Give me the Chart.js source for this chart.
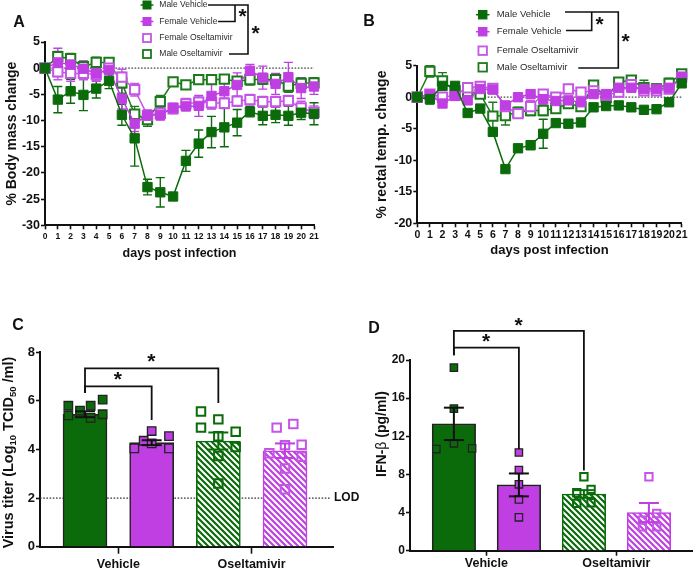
<!DOCTYPE html>
<html>
<head>
<meta charset="utf-8">
<script src="https://cdn.jsdelivr.net/npm/chart.js@4.4.1/dist/chart.umd.min.js"></script>
<style>
html, body { margin: 0; padding: 0; background: #fff; }
#wrap { position: relative; width: 700px; height: 572px; overflow: hidden; }
canvas { position: absolute; }
</style>
</head>
<body>
<div id="wrap">
  <canvas id="cA" width="350" height="290" style="left:0;top:0"></canvas>
  <canvas id="cB" width="350" height="290" style="left:350px;top:0"></canvas>
  <canvas id="cC" width="370" height="282" style="left:0;top:290px"></canvas>
  <canvas id="cD" width="350" height="282" style="left:350px;top:290px"></canvas>
</div>
<script>
// ---- data: panels A and B (days post infection)
const days = [0, 1, 2, 3, 4, 5, 6, 7, 8, 9, 10, 11, 12, 13, 14, 15, 16, 17, 18, 19, 20, 21];
const seriesNames = ['Male Vehicle', 'Female Vehicle', 'Female Oseltamivir', 'Male Oseltamivir'];

const massMaleVeh = [0, -6.0, -4.4, -5.1, -3.9, -2.4, -8.9, -13.4, -22.7, -23.7, -24.5, -17.7, -14.4, -12.2, -11.3, -10.4, -8.3, -9.1, -8.9, -9.1, -8.5, -8.7];
const massFemVeh = [0, 1.1, 0.7, -0.1, -1.0, -0.4, -5.8, -10.6, -9.0, -8.9, -7.6, -7.3, -7.2, -5.3, -4.4, -3.2, -0.5, -1.8, -3.0, -1.7, -3.8, -3.5];
const massFemOsel = [0, -0.7, -1.0, -1.0, -1.2, 0.0, -1.7, -4.1, -9.0, -8.6, -7.7, -6.8, -6.5, -6.6, -6.7, -6.3, -6.0, -6.4, -6.4, -6.2, -7.6, -8.4];
const massMaleOsel = [0, 2.2, 1.8, 0.3, 1.1, 1.1, -2.8, -8.8, -9.8, -6.4, -2.6, -3.2, -2.2, -2.2, -2.1, -2.5, -2.2, -2.1, -2.2, -3.4, -2.9, -2.8];
const massMaleVehSem = [0, 2.5, 2.3, 3.0, 1.8, 1.5, 2.0, 5.3, 1.5, 2.8, 0.5, 2.0, 2.6, 3.0, 3.7, 2.5, 1.0, 1.7, 1.5, 1.8, 1.3, 2.1];
const massFemVehSem = [0, 2.7, 1.5, 1.5, 1.5, 1.5, 2.0, 1.5, 1.0, 1.0, 0.8, 0.8, 2.0, 2.5, 2.5, 2.3, 1.2, 2.2, 2.0, 2.8, 2.0, 1.5];
const massFemOselSem = [0, 1.5, 1.5, 1.2, 1.2, 1.0, 1.5, 1.2, 1.0, 1.2, 1.0, 1.0, 1.0, 1.0, 1.0, 1.0, 1.0, 1.0, 1.0, 1.0, 1.3, 1.2];
const massMaleOselSem = [0, 1.0, 1.0, 1.0, 1.0, 0.8, 2.0, 1.5, 1.3, 1.2, 0.8, 0.8, 0.8, 0.8, 0.8, 0.8, 1.0, 1.0, 1.0, 1.2, 1.0, 1.0];

const tempMaleVeh = [0, -0.3, 1.8, 1.8, -2.5, -1.8, -5.5, -11.4, -8.1, -7.6, -5.8, -4.1, -4.2, -4.0, -1.6, -1.4, -1.3, -1.6, -2.0, -1.9, -0.8, 2.2];
const tempFemVeh = [0, 0.4, -1.0, 0.2, -0.5, 1.3, 1.2, -1.3, 0.0, 0.5, -0.3, -0.6, -0.5, -0.8, 0.5, 0.5, 1.5, 1.5, 1.3, 1.3, 1.5, 3.2];
const tempFemOsel = [0, 0.5, 0.0, 0.3, 1.5, 1.7, 1.4, -1.5, -2.6, -1.5, 0.5, 0.0, 1.3, 0.8, 1.0, 0.3, 0.8, 2.0, 1.0, 1.0, 1.3, 3.2];
const tempMaleOsel = [0, 4.1, 2.6, 1.0, 0.9, 0.5, -3.0, -2.9, -2.4, -2.1, -2.1, -1.8, -1.0, -1.5, 1.9, 0.0, 2.4, 2.7, 1.5, 1.3, 2.2, 3.7];
const tempMaleVehSem = [0.2, 0.8, 0.5, 0.5, 0.4, 0.4, 0.6, 0.5, 0.5, 0.7, 2.3, 0.5, 0.5, 0.5, 0.5, 0.5, 0.5, 0.5, 0.5, 0.5, 0.5, 0.6];
const tempFemVehSem = [0.2, 0.7, 0.6, 0.5, 0.5, 0.5, 0.5, 0.6, 0.6, 0.6, 0.8, 0.6, 0.5, 0.5, 0.5, 0.5, 0.6, 0.6, 0.6, 0.6, 0.6, 0.5];
const tempFemOselSem = [0.2, 0.5, 0.5, 0.5, 0.5, 0.5, 0.5, 0.6, 0.6, 1.0, 0.6, 0.5, 0.5, 0.5, 0.5, 0.5, 0.6, 0.6, 0.6, 0.6, 0.6, 0.5];
const tempMaleOselSem = [0.2, 0.9, 1.3, 0.6, 0.6, 0.6, 2.2, 1.5, 0.8, 0.8, 0.8, 0.6, 0.6, 0.6, 0.6, 0.6, 0.6, 0.6, 1.2, 0.8, 0.8, 0.6];

// ---- data: panels C and D (bars: Vehicle male, Vehicle female, Oseltamivir male, Oseltamivir female)
const groupLabels = ['Vehicle', 'Oseltamivir'];
const barPos = [1, 2, 3, 4];
const groupPos = [1.5, 3.5];

const titerMean = [5.45, 4.28, 4.35, 3.95];
const titerSem = [0.12, 0.1, 0.35, 0.3];
const titerVehMale = [5.8, 5.4, 5.6, 5.8, 5.3, 6.05, 5.45];
const titerVehFem = [4.05, 4.36, 4.76, 4.25, 4.55, 4.05];
const titerOselMale = [5.56, 4.9, 5.24, 4.55, 3.73, 2.6, 4.73, 4.1];
const titerOselFem = [4.9, 5.05, 4.18, 4.2, 3.85, 3.7, 3.22, 2.36];
const titerLod = 2;

const ifnMean = [13.3, 6.9, 5.95, 4.0];
const ifnSem = [1.7, 1.2, 0.4, 1.0];
const ifnVehMale = [19.2, 14.9, 11.26, 10.66, 10.73];
const ifnVehFem = [10.3, 8.46, 6.96, 5.38, 3.5];
const ifnOselMale = [7.76, 6.08, 6.43, 4.97, 5.03];
const ifnOselFem = [7.76, 3.9, 3.2, 2.5, 2.5];

// horizontal spread of the dots inside each bar (layout only)
const titerJitter = [
  [-0.25, -0.25, -0.075, 0.085, 0.085, 0.265, 0.265],
  [-0.26, -0.12, 0, 0, 0.26, 0.26],
  [-0.26, -0.26, 0, 0, 0, 0, 0.26, 0.26],
  [-0.125, 0.125, 0, 0.25, -0.235, 0.25, 0, 0]
];
const ifnJitter = [
  [0, 0, 0, -0.27, 0.28],
  [0, 0, 0, 0, 0],
  [0, -0.11, 0.11, -0.11, 0.11],
  [0, 0.12, -0.1, 0.12, -0.1]
];

const FONT = '"Liberation Sans", Arial, Helvetica, sans-serif';
const INK = '#111';
const GREEN = '#0b6b0b';
const GREEN_O = '#1c7a1c';
const PURPLE = '#bf3fe3';
const PURPLE_O = '#c456e6';

Chart.defaults.font.family = FONT;
Chart.defaults.color = INK;

const seriesFill = [GREEN, PURPLE, '#fff', '#fff'];
const seriesStroke = [GREEN, PURPLE, PURPLE_O, GREEN_O];
const seriesOpen = [false, false, true, true];

const gridOpt = { drawOnChartArea: false, drawTicks: true, tickLength: 4, tickWidth: 1.6, tickColor: INK };
const borderOpt = { display: true, color: INK, width: 2 };

// ---- small drawing helpers
function poly(ctx, pts, color, w) {
  ctx.save();
  ctx.strokeStyle = color;
  ctx.lineWidth = w;
  ctx.beginPath();
  pts.forEach((p, i) => i ? ctx.lineTo(p[0], p[1]) : ctx.moveTo(p[0], p[1]));
  ctx.stroke();
  ctx.restore();
}

function text(ctx, s, x, y, font, color, align) {
  ctx.save();
  ctx.font = font;
  ctx.fillStyle = color || INK;
  ctx.textAlign = align || 'left';
  ctx.textBaseline = 'middle';
  ctx.fillText(s, x, y);
  ctx.restore();
}

function star(ctx, cx, cy) {
  ctx.save();
  ctx.font = 'bold 21px ' + FONT;
  ctx.fillStyle = INK;
  ctx.textAlign = 'left';
  ctx.textBaseline = 'alphabetic';
  const m = ctx.measureText('*');
  ctx.fillText('*', cx - (m.actualBoundingBoxRight - m.actualBoundingBoxLeft) / 2,
    cy + (m.actualBoundingBoxAscent - m.actualBoundingBoxDescent) / 2);
  ctx.restore();
}

function mark(ctx, x, y, s, fill, stroke, open, withLine) {
  if (withLine) poly(ctx, [[x - s * 0.8, y], [x + s * 0.8, y]], stroke, 1.5);
  ctx.save();
  ctx.fillStyle = fill;
  ctx.strokeStyle = stroke;
  ctx.lineWidth = open ? 1.8 : 1;
  ctx.fillRect(x - s / 2, y - s / 2, s, s);
  ctx.strokeRect(x - s / 2, y - s / 2, s, s);
  ctx.restore();
}

function legendBlock(ctx, mx, rows, tx, size, fs) {
  seriesNames.forEach((name, i) => {
    mark(ctx, mx, rows[i], size, seriesFill[i], seriesStroke[i], seriesOpen[i], !seriesOpen[i]);
    text(ctx, name, tx, rows[i], fs + 'px ' + FONT, '#2a2a2a');
  });
}

// rotated y title made of pieces (for subscripts / symbol)
function vTitle(ctx, pieces, baseX, cy) {
  ctx.save();
  ctx.fillStyle = INK;
  ctx.textBaseline = 'alphabetic';
  let total = 0;
  pieces.forEach(p => { ctx.font = p.font; total += ctx.measureText(p.t).width; });
  ctx.translate(baseX, cy);
  ctx.rotate(-Math.PI / 2);
  let x = -total / 2;
  pieces.forEach(p => {
    ctx.font = p.font;
    ctx.fillText(p.t, x, p.dy || 0);
    x += ctx.measureText(p.t).width;
  });
  ctx.restore();
}

function zeroLine(ch) {
  const { ctx, chartArea: a } = ch;
  const yy = ch.scales.y.getPixelForValue(0);
  ctx.save();
  ctx.strokeStyle = '#444';
  ctx.lineWidth = 1.2;
  ctx.setLineDash([1.6, 1.6]);
  ctx.beginPath();
  ctx.moveTo(a.left, yy);
  ctx.lineTo(a.right, yy);
  ctx.stroke();
  ctx.restore();
}

function seriesErrors(ch, sems) {
  const ctx = ch.ctx, y = ch.scales.y;
  sems.forEach((arr, di) => {
    const meta = ch.getDatasetMeta(di);
    const vals = ch.data.datasets[di].data;
    ctx.save();
    ctx.strokeStyle = seriesStroke[di];
    ctx.lineWidth = 1.4;
    ctx.beginPath();
    meta.data.forEach((pt, j) => {
      const yt = y.getPixelForValue(vals[j].y + arr[j]);
      const yb = y.getPixelForValue(vals[j].y - arr[j]);
      ctx.moveTo(pt.x, yt); ctx.lineTo(pt.x, yb);
      ctx.moveTo(pt.x - 4.5, yt); ctx.lineTo(pt.x + 4.5, yt);
      ctx.moveTo(pt.x - 4.5, yb); ctx.lineTo(pt.x + 4.5, yb);
    });
    ctx.stroke();
    ctx.restore();
  });
}

function hatch(color) {
  const c = document.createElement('canvas');
  c.width = 6; c.height = 6;
  const g = c.getContext('2d');
  g.fillStyle = '#fff';
  g.fillRect(0, 0, 6, 6);
  g.strokeStyle = color;
  g.lineWidth = 2.2;
  g.beginPath();
  [-6, 0, 6].forEach(k => { g.moveTo(-1, k - 1); g.lineTo(7, k + 7); });
  g.stroke();
  return g.createPattern(c, 'repeat');
}

// ---- time-course charts (A, B)
function timeChart(id, series, sems, o) {
  return new Chart(document.getElementById(id), {
    type: 'line',
    data: {
      datasets: series.map((vals, i) => ({
        label: seriesNames[i],
        data: days.map((d, j) => ({ x: d, y: vals[j] })),
        borderColor: seriesStroke[i],
        backgroundColor: seriesFill[i],
        borderWidth: 1.5,
        pointStyle: 'rect',
        pointRadius: o.r,
        pointBorderWidth: seriesOpen[i] ? 2 : 1,
        pointBackgroundColor: seriesFill[i],
        pointBorderColor: seriesStroke[i],
        tension: 0,
        clip: false
      }))
    },
    options: {
      responsive: false,
      animation: false,
      events: [],
      layout: { padding: { left: 0, top: o.top, right: o.right, bottom: 0 } },
      plugins: { legend: { display: false }, tooltip: { enabled: false } },
      scales: {
        x: {
          type: 'linear', min: 0, max: 21,
          afterBuildTicks: s => { s.ticks = days.map(v => ({ value: v })); },
          afterFit: s => { s.height = o.xh; },
          ticks: { autoSkip: false, maxRotation: 0, minRotation: 0, padding: o.xpad, color: INK, font: { size: o.xfs, weight: 'bold' } },
          grid: gridOpt, border: borderOpt,
          title: { display: true, text: 'days post infection', color: INK, font: { size: o.xtfs, weight: 'bold' }, padding: { top: 0, bottom: o.xtpad } }
        },
        y: {
          min: o.ymin, max: o.ymax,
          afterFit: s => { s.width = o.yw; },
          ticks: { stepSize: 5, padding: 1, color: INK, font: { size: 12.5, weight: 'bold' } },
          grid: gridOpt, border: borderOpt,
          title: { display: true, text: o.ytitle, color: INK, font: { size: 14, weight: 'bold' }, padding: { top: o.ytpad, bottom: 0 } }
        }
      }
    },
    plugins: [{
      id: 'deco' + id,
      beforeDatasetsDraw(ch) { zeroLine(ch); seriesErrors(ch, sems); },
      afterDraw(ch) { o.deco(ch.ctx); }
    }]
  });
}

timeChart('cA', [massMaleVeh, massFemVeh, massFemOsel, massMaleOsel],
  [massMaleVehSem, massFemVehSem, massFemOselSem, massMaleOselSem], {
    r: 6.6, top: 42, right: 36, xh: 64.7, yw: 45, xpad: 2, xfs: 8.5, xtfs: 12.5, xtpad: 28.5,
    ymin: -30, ymax: 5, ytitle: '% Body mass change', ytpad: 4,
    deco(ctx) {
      text(ctx, 'A', 19, 23, 'bold 16px ' + FONT, INK, 'center');
      legendBlock(ctx, 147, [5, 21.5, 38, 54], 159.3, 8, 8.5);
      poly(ctx, [[208, 5], [248, 5], [248, 54], [229, 54]], INK, 1.6);
      poly(ctx, [[235, 5], [235, 21.5], [218, 21.5]], INK, 1.6);
      star(ctx, 243, 13);
      star(ctx, 256, 30);
    }
  });

timeChart('cB', [tempMaleVeh, tempFemVeh, tempFemOsel, tempMaleOsel],
  [tempMaleVehSem, tempFemVehSem, tempFemOselSem, tempMaleOselSem], {
    r: 6.6, top: 65.7, right: 18.3, xh: 66.7, yw: 67.3, xpad: 2, xfs: 10.5, xtfs: 13, xtpad: 31.4,
    ymin: -20, ymax: 5, ytitle: '% rectal temp. change', ytpad: 24,
    deco(ctx) {
      text(ctx, 'B', 19, 22, 'bold 16px ' + FONT, INK, 'center');
      legendBlock(ctx, 132.7, [14.7, 31.7, 50.7, 67.3], 146.7, 8.5, 9.5);
      poly(ctx, [[215, 12], [268.3, 12], [268.3, 68], [228.3, 68]], INK, 1.6);
      poly(ctx, [[241.7, 12], [241.7, 30.5], [216, 30.5]], INK, 1.6);
      star(ctx, 250, 21);
      star(ctx, 276, 38.3);
    }
  });

// ---- bar charts (C, D)
function barChart(id, means, sems, pts, jitter, o) {
  const fills = [GREEN, PURPLE, hatch(GREEN), hatch(PURPLE)];
  const edges = ['#222', '#222', GREEN, PURPLE];
  const dotFill = [GREEN, PURPLE, 'rgba(0,0,0,0)', 'rgba(0,0,0,0)'];
  const dotEdge = ['#222', '#222', GREEN, PURPLE_O];
  const errCol = [INK, INK, GREEN, PURPLE];
  const datasets = [{
    type: 'bar',
    data: barPos.map((p, i) => ({ x: p, y: means[i] })),
    backgroundColor: fills,
    borderColor: edges,
    borderWidth: 1.6,
    barThickness: o.bw,
    order: 2
  }];
  pts.forEach((vals, i) => datasets.push({
    type: 'scatter',
    data: vals.map((v, j) => ({ x: barPos[i] + jitter[i][j], y: v })),
    pointStyle: 'rect',
    pointRadius: o.r,
    pointBackgroundColor: dotFill[i],
    pointBorderColor: dotEdge[i],
    pointBorderWidth: i < 2 ? 1.3 : 2,
    clip: false,
    order: 1
  }));
  return new Chart(document.getElementById(id), {
    type: 'bar',
    data: { datasets },
    options: {
      responsive: false,
      animation: false,
      events: [],
      layout: { padding: { left: 0, top: o.top, right: o.right, bottom: 0 } },
      plugins: { legend: { display: false }, tooltip: { enabled: false } },
      scales: {
        x: {
          type: 'linear', min: o.xmin, max: o.xmax, offset: false,
          afterBuildTicks: s => { s.ticks = groupPos.map(v => ({ value: v })); },
          afterFit: s => { s.height = o.xh; },
          ticks: { autoSkip: false, maxRotation: 0, padding: o.xpad, color: INK, font: { size: 12.5, weight: 'bold' },
            callback: v => groupLabels[groupPos.indexOf(v)] },
          grid: Object.assign({}, gridOpt, { tickLength: o.tl, offset: false }), border: borderOpt
        },
        y: {
          min: 0, max: o.ymax,
          afterFit: s => { s.width = o.yw; },
          ticks: { stepSize: o.step, padding: 1, color: INK, font: { size: o.yfs, weight: 'bold' } },
          grid: gridOpt, border: borderOpt
        }
      }
    },
    plugins: [{
      id: 'deco' + id,
      beforeDatasetsDraw(ch) { if (o.under) o.under(ch); },
      afterDatasetsDraw(ch) {
        const ctx = ch.ctx, x = ch.scales.x, y = ch.scales.y;
        means.forEach((m, i) => {
          const px = x.getPixelForValue(barPos[i]);
          const yt = y.getPixelForValue(m + sems[i]);
          const yb = y.getPixelForValue(m - sems[i]);
          poly(ctx, [[px, yt], [px, yb]], errCol[i], 2);
          poly(ctx, [[px - 10, yt], [px + 10, yt]], errCol[i], 2);
          poly(ctx, [[px - 10, yb], [px + 10, yb]], errCol[i], 2);
        });
      },
      afterDraw(ch) {
        const ctx = ch.ctx, x = ch.scales.x, y = ch.scales.y;
        o.brackets.forEach(b => {
          const x0 = x.getPixelForValue(b.from), x1 = x.getPixelForValue(b.to);
          poly(ctx, [[x0, y.getPixelForValue(b.leftEnd)], [x0, y.getPixelForValue(b.at)],
            [x1, y.getPixelForValue(b.at)], [x1, y.getPixelForValue(b.rightEnd)]], INK, 1.8);
          star(ctx, (x0 + x1) / 2, y.getPixelForValue(b.star));
        });
        o.deco(ctx, ch);
      }
    }]
  });
}

barChart('cC', titerMean, titerSem, [titerVehMale, titerVehFem, titerOselMale, titerOselFem], titerJitter, {
  bw: 44, r: 6, top: 62.3, right: 37, xh: 25.3, yw: 40, xpad: 3, tl: 7, xmin: 0.325, xmax: 4.72,
  ymax: 8, step: 2, yfs: 13,
  brackets: [
    { from: 1, to: 2, at: 6.6, leftEnd: 6.33, rightEnd: 5.21, star: 7.02 },
    { from: 1, to: 3, at: 7.34, leftEnd: 6.33, rightEnd: 5.91, star: 7.77 }
  ],
  under(ch) {
    const { ctx, chartArea: a } = ch;
    const yy = ch.scales.y.getPixelForValue(titerLod);
    ctx.save();
    ctx.strokeStyle = '#333';
    ctx.lineWidth = 1.2;
    ctx.setLineDash([1.6, 1.6]);
    ctx.beginPath(); ctx.moveTo(a.left, yy); ctx.lineTo(a.right - 3, yy); ctx.stroke();
    ctx.restore();
  },
  deco(ctx, ch) {
    const yy = ch.scales.y.getPixelForValue(titerLod);
    text(ctx, 'LOD', ch.chartArea.right + 1, yy, 'bold 12px ' + FONT, INK, 'left');
    text(ctx, 'C', 18, 36, 'bold 16px ' + FONT, INK, 'center');
    const big = 'bold 14.5px ' + FONT, small = 'bold 9.5px ' + FONT;
    vTitle(ctx, [
      { t: 'Virus titer (Log', font: big }, { t: '10', font: small, dy: 3.5 },
      { t: ' TCID', font: big }, { t: '50', font: small, dy: 3.5 }, { t: ' /ml)', font: big }
    ], 12.5, 162.5);
  }
});

barChart('cD', ifnMean, ifnSem, [ifnVehMale, ifnVehFem, ifnOselMale, ifnOselFem], ifnJitter, {
  bw: 43.5, r: 5.2, top: 70, right: 2, xh: 21.3, yw: 60, xpad: 0, tl: 5, xmin: 0.325, xmax: 4.675,
  ymax: 20, step: 4, yfs: 12,
  brackets: [
    { from: 1, to: 2, at: 21.3, leftEnd: 20.5, rightEnd: 10.67, star: 22.3 },
    { from: 1, to: 3, at: 23.05, leftEnd: 20.5, rightEnd: 8.4, star: 24.0 }
  ],
  deco(ctx) {
    text(ctx, 'D', 24, 39, 'bold 16px ' + FONT, INK, 'center');
    vTitle(ctx, [
      { t: 'IFN-', font: 'bold 14px ' + FONT }, { t: 'β', font: '14px ' + FONT },
      { t: ' (pg/ml)', font: 'bold 14px ' + FONT }
    ], 35.5, 144);
  }
});
</script>
</body>
</html>
